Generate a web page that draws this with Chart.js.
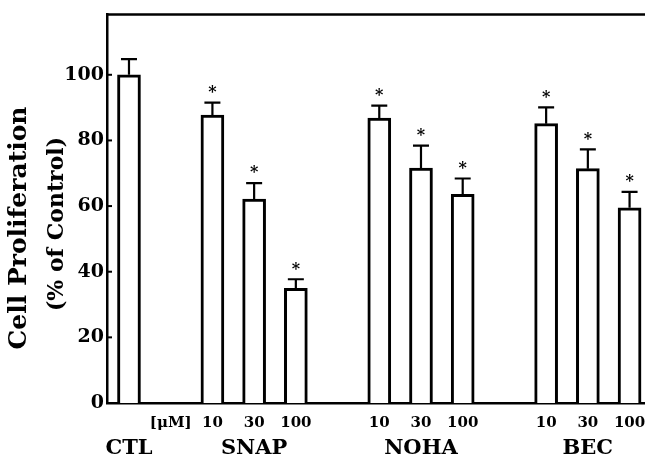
<!DOCTYPE html>
<html>
<head>
<meta charset="utf-8">
<script src="https://cdn.jsdelivr.net/npm/chart.js@4.4.1/dist/chart.umd.min.js"></script>
<style>
  html, body { margin: 0; padding: 0; background: #fff; overflow: hidden; }
  #wrap { width: 645px; height: 460px; }
</style>
</head>
<body>
<div id="wrap"><canvas id="bars" width="645" height="460"></canvas></div>
<script>
// slot positions along the x axis (gaps between groups are empty slots)
const slots = [0, 2, 3, 4, 6, 7, 8, 10, 11, 12];
const means = [100, 87.7, 62.1, 34.9, 86.8, 71.6, 63.6, 85.1, 71.4, 59.5];
const errors = [4.8, 3.8, 4.9, 2.8, 3.8, 6.8, 4.8, 5.0, 5.9, 4.8];
const significant = [false, true, true, true, true, true, true, true, true, true];

const doseLabels = ['', '[\u03bcM]', '10', '30', '100', '', '10', '30', '100', '', '10', '30', '100'];
const groupLabels = ['CTL', '', '', 'SNAP', '', '', '', 'NOHA', '', '', '', 'BEC', ''];
const yTicks = [0, 20, 40, 60, 80, 100];

const SERIF = '"DejaVu Serif", "Liberation Serif", serif';
const xMin = -0.527, xMax = 12.37;

const ctx = document.querySelector('#bars').getContext('2d');

const extras = {
    id: 'extras',
    afterDatasetsDraw(chart) {
        const c = chart.ctx;
        const xs = chart.scales.x, ys = chart.scales.y;
        const area = chart.chartArea;
        c.save();
        c.strokeStyle = '#000';
        c.fillStyle = '#000';

        // top frame line
        c.lineWidth = 2.5;
        c.beginPath();
        c.moveTo(area.left - 1, area.top);
        c.lineTo(chart.width, area.top);
        c.stroke();

        // inward tick marks on the y axis
        c.lineWidth = 2;
        yTicks.forEach(v => {
            const py = ys.getPixelForValue(v);
            c.beginPath();
            c.moveTo(area.left, py);
            c.lineTo(area.left + 5, py);
            c.stroke();
        });

        // error bars and asterisks
        slots.forEach((s, i) => {
            const px = xs.getPixelForValue(s);
            const top = ys.getPixelForValue(means[i]);
            const errTop = ys.getPixelForValue(means[i] + errors[i]);
            c.lineWidth = 2.2;
            c.beginPath();
            c.moveTo(px, top);
            c.lineTo(px, errTop);
            c.moveTo(px - 8, errTop);
            c.lineTo(px + 8, errTop);
            c.stroke();
            if (significant[i]) {
                c.font = 'bold 16px ' + SERIF;
                c.textAlign = 'center';
                c.textBaseline = 'alphabetic';
                c.fillText('*', px, errTop - 15 + 0.58 * 16);
            }
        });

        // y axis titles
        c.textAlign = 'center';
        c.textBaseline = 'middle';
        c.translate(19, 228);
        c.rotate(-Math.PI / 2);
        c.font = 'bold 25px ' + SERIF;
        c.fillText('Cell Proliferation', 0, 0);
        c.font = 'bold 22px ' + SERIF;
        c.fillText('(% of Control)', 4, 38);
        c.restore();
    }
};

new Chart(ctx, {
    type: 'bar',
    data: {
        datasets: [{
            data: slots.map((s, i) => ({ x: s, y: means[i] })),
            backgroundColor: '#fff',
            borderColor: '#000',
            borderWidth: 3,
            barThickness: 23
        }]
    },
    options: {
        responsive: false,
        animation: false,
        events: [],
        layout: { padding: { top: 14, left: 0, right: 0, bottom: 0 } },
        plugins: { legend: { display: false }, tooltip: { enabled: false } },
        scales: {
            x: {
                type: 'linear',
                offset: false,
                min: xMin,
                max: xMax,
                weight: 0,
                grid: { display: false, drawTicks: false, offset: false },
                border: { display: true, color: '#000', width: 2.5 },
                afterBuildTicks: scale => { scale.ticks = doseLabels.map((_, i) => ({ value: i })); },
                afterFit: scale => { scale.height = 29; scale.paddingLeft = 0; scale.paddingRight = 0; },
                ticks: {
                    autoSkip: false,
                    maxRotation: 0,
                    padding: 11,
                    color: '#000',
                    font: { family: SERIF, size: 15, weight: 'bold' },
                    callback: v => doseLabels[v]
                }
            },
            x2: {
                type: 'linear',
                position: 'bottom',
                offset: false,
                min: xMin,
                max: xMax,
                weight: 1,
                grid: { display: false, drawTicks: false, offset: false },
                border: { display: false },
                afterBuildTicks: scale => { scale.ticks = groupLabels.map((_, i) => ({ value: i })); },
                afterFit: scale => { scale.height = 28; scale.paddingLeft = 0; scale.paddingRight = 0; },
                ticks: {
                    autoSkip: false,
                    maxRotation: 0,
                    padding: 4,
                    color: '#000',
                    font: { family: SERIF, size: 21, weight: 'bold' },
                    callback: v => groupLabels[v]
                }
            },
            y: {
                min: 0,
                max: 118.4,
                grid: { display: false, drawTicks: false },
                border: { display: true, color: '#000', width: 2.5 },
                afterBuildTicks: scale => { scale.ticks = yTicks.map(v => ({ value: v })); },
                afterFit: scale => { scale.width = 107; },
                ticks: {
                    padding: 3,
                    color: '#000',
                    font: { family: SERIF, size: 19, weight: 'bold' }
                }
            }
        }
    },
    plugins: [extras]
});
</script>
</body>
</html>
